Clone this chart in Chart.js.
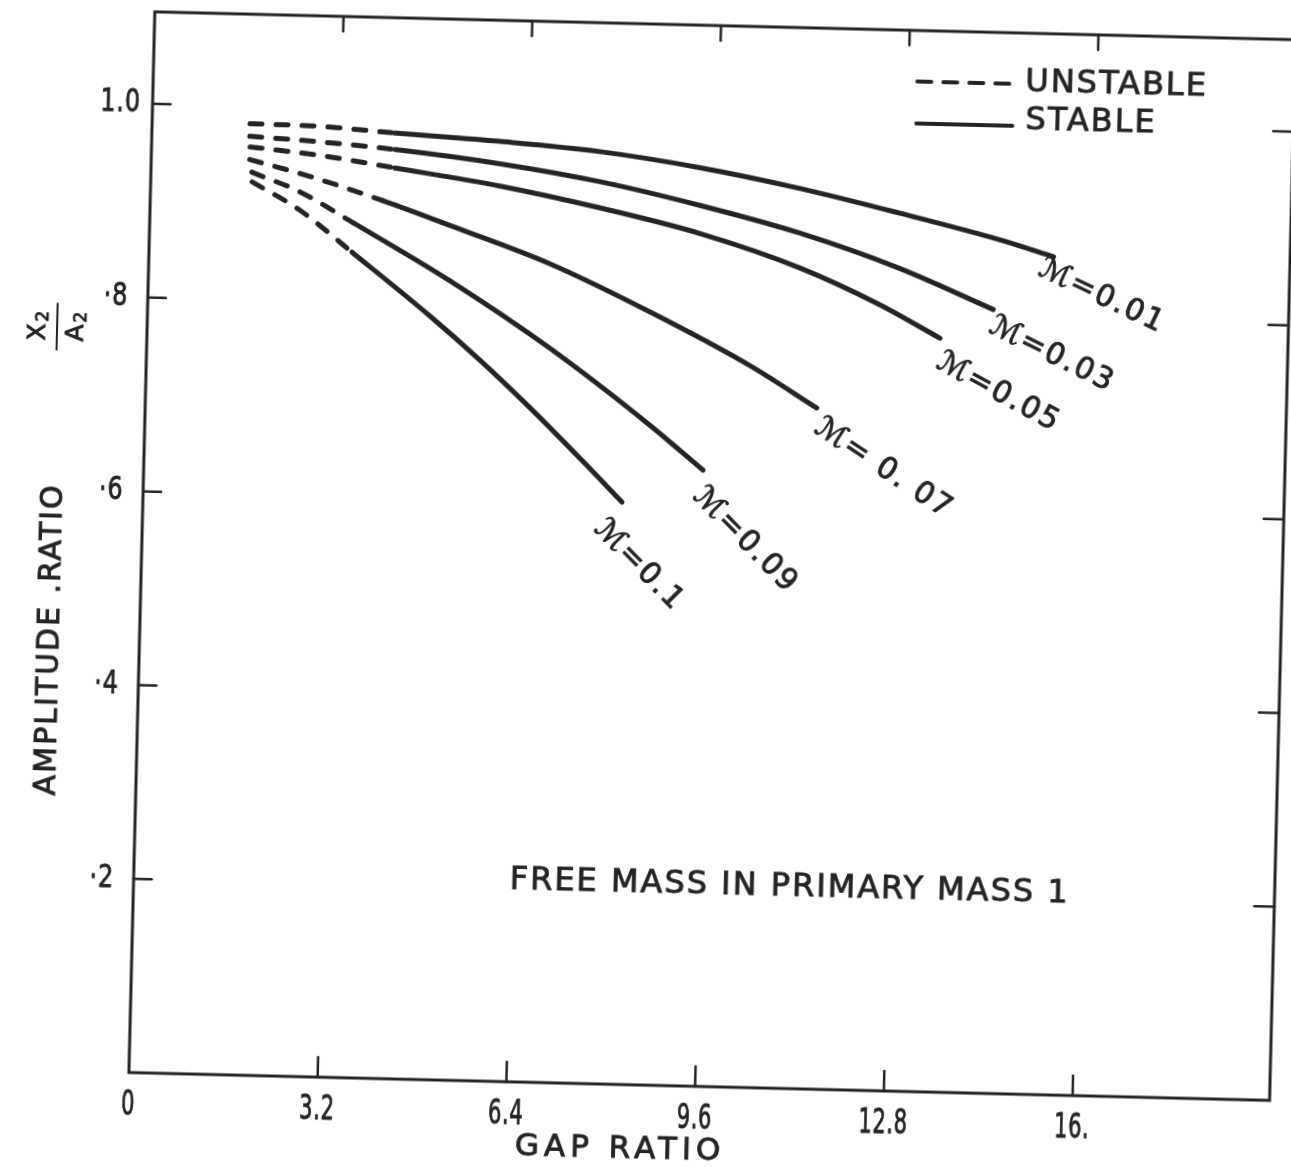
<!DOCTYPE html>
<html>
<head>
<meta charset="utf-8">
<script src="https://cdn.jsdelivr.net/npm/chart.js@4.4.1/dist/chart.umd.min.js"></script>
<style>
  html, body { margin: 0; padding: 0; background: #fff; overflow: hidden; }
  #wrap { width: 1291px; height: 1167px; position: relative; }
  /* the scanned figure sits slightly turned on the page */
  #chart { display: block; transform: rotate(1.4deg); transform-origin: 50% 50%; }
</style>
</head>
<body>
<div id="wrap"><canvas id="chart" width="1291" height="1167"></canvas></div>
<script>
// ---- axis ticks ----
const GAP_TICKS = [0, 3.2, 6.4, 9.6, 12.8, 16];
const GAP_TICK_LABELS = ["0", "3.2", "6.4", "9.6", "12.8", "16."];
const AMP_TICKS = [0.2, 0.4, 0.6, 0.8, 1.0];
const AMP_TICK_LABELS = ["·2", "·4", "·6", "·8", "1.0"];

// ---- curves: gap ratio (x) vs amplitude ratio X2/A2 (y), one pair per mass ratio ----
const MU_VALUES = ["0.01", "0.03", "0.05", "0.07", "0.09", "0.1"];
const MU_LABELS = ["ℳ=0.01", "ℳ=0.03", "ℳ=0.05", "ℳ= 0. 07", "ℳ=0.09", "ℳ=0.1"];

const GAP_001 = [1.66, 2.85, 4.12, 5.90, 7.60, 9.30, 11.01, 12.71, 14.42, 15.33];
const AMP_001 = [0.982, 0.981, 0.976, 0.970, 0.962, 0.948, 0.929, 0.906, 0.881, 0.865];
const GAP_003 = [1.66, 2.85, 4.13, 5.91, 7.61, 9.32, 11.02, 12.73, 14.33];
const AMP_003 = [0.969, 0.965, 0.959, 0.947, 0.931, 0.909, 0.883, 0.849, 0.809];
const GAP_005 = [1.67, 2.86, 4.13, 5.92, 7.62, 9.33, 11.04, 12.41, 13.44];
const AMP_005 = [0.958, 0.951, 0.940, 0.924, 0.904, 0.880, 0.847, 0.811, 0.778];
const GAP_007 = [1.67, 2.70, 3.94, 5.09, 6.80, 8.51, 10.23, 11.38];
const AMP_007 = [0.945, 0.929, 0.906, 0.882, 0.845, 0.798, 0.745, 0.703];
const GAP_009 = [1.71, 2.53, 3.46, 5.11, 6.83, 8.56, 9.48];
const AMP_009 = [0.932, 0.913, 0.882, 0.825, 0.758, 0.681, 0.636];
const GAP_010 = [1.72, 2.54, 3.44, 4.79, 5.65, 6.52, 7.39, 8.12];
const AMP_010 = [0.922, 0.894, 0.852, 0.788, 0.744, 0.696, 0.645, 0.601];

// first points of every curve are the unstable (dashed) branch
const UNSTABLE_POINTS = 3;

const CURVES = [
  [GAP_001, AMP_001], [GAP_003, AMP_003], [GAP_005, AMP_005],
  [GAP_007, AMP_007], [GAP_009, AMP_009], [GAP_010, AMP_010],
];

const INK = "#242424";
const FONT = "'DejaVu Sans', 'Liberation Sans', sans-serif";

// label placement next to each curve end: [dx, dy, angle deg]
const LABEL_POS = [[-13, 11, 24], [-2, 15, 25], [-1, 22, 27], [1, 17, 32], [-5, 22, 44], [-23, 23, 44]];

function line(ctx, x1, y1, x2, y2) {
  ctx.beginPath();
  ctx.moveTo(x1, y1);
  ctx.lineTo(x2, y2);
  ctx.stroke();
}

// lettering is a bit heavier than the plain font, so outline it lightly
function text(ctx, str, x, y, font, spacing, align, base) {
  ctx.font = font;
  ctx.letterSpacing = spacing || "0px";
  ctx.textAlign = align || "left";
  ctx.textBaseline = base || "middle";
  ctx.fillText(str, x, y);
  ctx.save();
  ctx.lineWidth = 0.9;
  ctx.lineCap = "butt";
  ctx.strokeText(str, x, y);
  ctx.restore();
}

const paperPlugin = {
  id: "paper",
  afterDatasetsDraw(chart) {
    const { ctx, chartArea: a, scales } = chart;
    const x = scales.x, y = scales.y;
    ctx.save();
    ctx.strokeStyle = INK;
    ctx.fillStyle = INK;
    ctx.lineCap = "round";

    // frame
    ctx.lineWidth = 3;
    ctx.strokeRect(a.left, a.top, a.right - a.left, a.bottom - a.top);

    // inward ticks on all four sides
    ctx.lineWidth = 2.5;
    GAP_TICKS.forEach(v => {
      if (v === 0) return;
      const px = x.getPixelForValue(v);
      line(ctx, px, a.bottom, px, a.bottom - 20);
      line(ctx, px, a.top, px, a.top + 15);
    });
    AMP_TICKS.forEach(v => {
      const py = y.getPixelForValue(v);
      line(ctx, a.left, py, a.left + 18, py);
      line(ctx, a.right, py, a.right - 20, py);
    });

    // tick labels (narrow lettering)
    GAP_TICKS.forEach((v, i) => {
      const px = x.getPixelForValue(v);
      ctx.save();
      ctx.translate(px, a.bottom + 33);
      ctx.scale(0.62, 1);
      text(ctx, GAP_TICK_LABELS[i], 0, 0, "34px " + FONT, "1px", "center");
      ctx.restore();
    });
    AMP_TICKS.forEach((v, i) => {
      const py = y.getPixelForValue(v);
      ctx.save();
      ctx.translate(a.left - 32, py);
      ctx.scale(0.75, 1);
      text(ctx, AMP_TICK_LABELS[i], 0, 0, "32px " + FONT, "1px", "center");
      ctx.restore();
    });

    // axis titles
    text(ctx, "GAP RATIO", 634, 1150, "31px " + FONT, "5px", "center");
    ctx.save();
    ctx.translate(52, 810);
    ctx.rotate(-Math.PI / 2);
    text(ctx, "AMPLITUDE .RATIO", 0, 0, "30px " + FONT, "2px", "left");
    text(ctx, "X", 463, -20, "25px " + FONT, "0px", "center");
    text(ctx, "2", 479, -14, "17px " + FONT, "0px", "center");
    text(ctx, "A", 463, 18, "25px " + FONT, "0px", "center");
    text(ctx, "2", 479, 24, "17px " + FONT, "0px", "center");
    ctx.lineWidth = 2;
    line(ctx, 446, -1, 492, -1);
    ctx.restore();

    // legend
    ctx.lineWidth = 4;
    ctx.setLineDash([14, 12]);
    line(ctx, 905, 75, 1003, 75);
    ctx.setLineDash([]);
    line(ctx, 905, 117, 1001, 117);
    text(ctx, "UNSTABLE", 1013, 74, "32px " + FONT, "2px", "left");
    text(ctx, "STABLE", 1014, 112, "32px " + FONT, "2px", "left");

    // note
    text(ctx, "FREE MASS IN PRIMARY MASS 1", 517, 884, "32px " + FONT, "2px", "left");

    // curve labels at the stable ends
    CURVES.forEach((c, i) => {
      const last = c[0].length - 1;
      const px = x.getPixelForValue(c[0][last]);
      const py = y.getPixelForValue(c[1][last]);
      const [dx, dy, ang] = LABEL_POS[i];
      ctx.save();
      ctx.translate(px + dx, py + dy);
      ctx.rotate(ang * Math.PI / 180);
      text(ctx, MU_LABELS[i], 0, 0, "30px " + FONT, "2px", "left");
      ctx.restore();
    });

    ctx.restore();
  },
};

const datasets = CURVES.map((c, i) => ({
  label: "μ = " + MU_VALUES[i],
  data: c[0].map((g, k) => ({ x: g, y: c[1][k] })),
  borderColor: INK,
  borderWidth: 5,
  borderCapStyle: "round",
  pointRadius: 0,
  cubicInterpolationMode: "monotone",
  fill: false,
  segment: {
    borderDash: ctx => (ctx.p1DataIndex < UNSTABLE_POINTS ? [12, 14] : undefined),
  },
}));

new Chart(document.getElementById("chart"), {
  type: "line",
  data: { datasets },
  options: {
    responsive: false,
    animation: false,
    devicePixelRatio: 1,
    layout: { padding: { left: 141, top: 24, right: 9, bottom: 82 } },
    scales: {
      x: { type: "linear", min: 0, max: 19.34, display: false },
      y: { type: "linear", min: 0, max: 1.095, display: false },
    },
    plugins: {
      legend: { display: false },
      tooltip: { enabled: false },
    },
  },
  plugins: [paperPlugin],
});
</script>
</body>
</html>
